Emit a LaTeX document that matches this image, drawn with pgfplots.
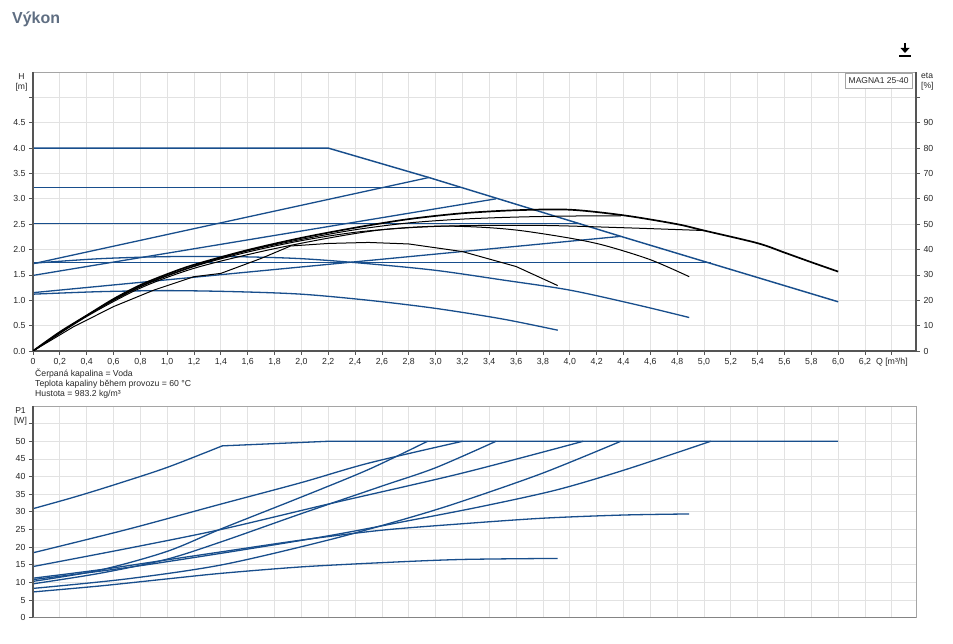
\documentclass[border=0pt]{standalone}
\usepackage{fontspec}
\setmainfont{Liberation Sans}
\usepackage{pgfplots}
\pgfplotsset{compat=1.18}
\definecolor{gblue}{RGB}{24,78,140}
\definecolor{gridgray}{RGB}{226,226,226}
\definecolor{axisdark}{RGB}{85,85,85}
\definecolor{framegray}{RGB}{165,165,165}
\definecolor{titlecol}{RGB}{95,110,130}
\definecolor{txt}{RGB}{40,40,40}
\pgfplotsset{
  base/.style={
    scale only axis, width=883bp, anchor=south west,
    xmin=0, xmax=6.58,
    xtick={0,0.2,0.4,0.6,0.8,1,1.2,1.4,1.6,1.8,2,2.2,2.4,2.6,2.8,3,3.2,3.4,3.6,3.8,4,4.2,4.4,4.6,4.8,5,5.2,5.4,5.6,5.8,6,6.2,6.4},
    grid=major, major grid style={gridgray, line width=0.8bp},
    axis line style={framegray, line width=0.8bp},
    tick align=outside, major tick length=4bp,
    tick style={axisdark, line width=0.8bp},
    tick label style={font=\fontsize{8.8}{10}\selectfont, text=txt},
    clip mode=individual,
  },
  bl/.style={gblue, line width=1.3bp},
  bk/.style={black, line width=1.0bp},
}
\begin{document}
\begin{tikzpicture}
\useasboundingbox (0,0) rectangle (953bp,644bp);
\fill[white] (0,0) rectangle (953bp,644bp);
% title
\node[anchor=base west, inner sep=0pt, font=\fontsize{16}{18}\selectfont\bfseries, text=titlecol] at (12bp,620.7bp) {Výkon};
% download icon
\draw[black, line width=2.2bp] (905bp,601bp) -- (905bp,595bp);
\fill[black] (900.5bp,596bp) -- (909.5bp,596bp) -- (905bp,591bp) -- cycle;
\fill[black] (899bp,587bp) rectangle (911bp,589bp);

% ---------------- top: H ----------------
\begin{axis}[base, at={(33bp,293bp)}, height=279bp,
  ymin=0, ymax=5.5,
  xticklabels={0,{0,2},{0,4},{0,6},{0,8},{1,0},{1,2},{1,4},{1,6},{1,8},{2,0},{2,2},{2,4},{2,6},{2,8},{3,0},{3,2},{3,4},{3,6},{3,8},{4,0},{4,2},{4,4},{4,6},{4,8},{5,0},{5,2},{5,4},{5,6},{5,8},{6,0},{6,2},{Q [m³/h]}},
  ytick={0,0.5,1,1.5,2,2.5,3,3.5,4,4.5,5},
  yticklabels={0.0,0.5,1.0,1.5,2.0,2.5,3.0,3.5,4.0,4.5,{}},
  xtick pos=left, ytick pos=left,
]
% max curve
\addplot[bl, line width=1.45bp] coordinates {(0,4.0) (2.2,4.0) (2.95,3.42) (4.38,2.26) (6.0,0.97)};
% constant pressure
\addplot[bl] coordinates {(0,3.225) (3.2,3.225)};
\addplot[bl] coordinates {(0,2.515) (4.08,2.515)};
\addplot[bl] coordinates {(0,1.74) (5.05,1.74)};
% proportional pressure
\addplot[bl] coordinates {(0,1.72) (2.95,3.42)};
\addplot[bl] coordinates {(0,1.49) (3.45,3.0)};
\addplot[bl] coordinates {(0,1.15) (4.38,2.26)};
% fixed speed curves
\addplot[bl, smooth] coordinates {(0,1.12) (0.5,1.17) (1.0,1.19) (1.5,1.17) (2.0,1.12) (2.5,1.0) (3.0,0.84) (3.5,0.63) (3.91,0.41)};
\addplot[bl, smooth] coordinates {(0,1.73) (0.5,1.82) (1.0,1.86) (1.5,1.86) (2.0,1.82) (2.5,1.72) (3.0,1.59) (3.5,1.40) (4.0,1.20) (4.5,0.91) (4.89,0.66)};
\draw[axisdark, line width=1.3bp] (rel axis cs:0,1) -- (rel axis cs:0,0) -- (rel axis cs:1,0);
\end{axis}

% ---------------- top: eta ----------------
\begin{axis}[base, at={(33bp,293bp)}, height=279bp,
  ymin=0, ymax=110, grid=none,
  axis x line=none, axis y line*=right,
  axis line style={-, axisdark, line width=1.3bp},
  ytick={0,10,20,30,40,50,60,70,80,90,100},
  yticklabels={0,10,20,30,40,50,60,70,80,90,{}},
]
\addplot[bk, line width=1.7bp, smooth] coordinates {(0,0) (0.2,7.5) (0.4,14) (0.6,20.5) (0.8,26) (1.0,30.3) (1.2,34) (1.6,39.8) (2.0,44.6) (2.4,48.6) (2.8,52) (3.2,54.3) (3.6,55.5) (4.0,55.7) (4.4,53.5) (4.8,50) (5.0,47.5) (5.4,42.5) (5.6,38.8) (5.8,35) (6.0,31.3)};
\addplot[bk, smooth] coordinates {(0,0) (0.4,14) (0.8,25.5) (1.2,33.5) (1.6,39.5) (2.0,44) (2.4,47.8) (2.8,50.5) (3.2,52) (3.6,52.8) (4.0,53.2) (4.38,53.3)};
\addplot[bk, smooth] coordinates {(0,0) (0.4,14) (0.8,25.3) (1.2,33.3) (1.6,39) (2.0,43.5) (2.4,46.8) (2.8,48.6) (3.2,49.4) (3.8,49.5) (4.4,48.6) (5.0,47.5)};
\addplot[bk, smooth] coordinates {(0,0) (0.4,13.6) (0.8,24.8) (1.2,32.6) (1.7,39.2) (2.2,44.5) (2.6,47.8) (3.0,49.2) (3.34,48.8) (3.63,47.5) (4.0,44.5) (4.26,41.6) (4.6,36) (4.89,29.3)};
\addplot[bk] coordinates {(0,0) (0.3,9.5) (0.6,17.5) (0.9,24) (1.2,29.3) (1.4,30.6) (1.7,36.5) (1.92,41.4) (2.2,42.4) (2.5,42.8) (2.8,42.2) (3.2,39.2) (3.6,33.3) (3.91,25.8)};
\end{axis}

% labels top
\node[font=\fontsize{8.6}{10}\selectfont, text=txt] at (21.5bp,567.5bp) {H};
\node[font=\fontsize{8.6}{10}\selectfont, text=txt] at (21.5bp,557bp) {[m]};
\node[anchor=west, inner sep=0pt, font=\fontsize{8.6}{10}\selectfont, text=txt] at (921bp,568bp) {eta};
\node[anchor=west, inner sep=0pt, font=\fontsize{8.6}{10}\selectfont, text=txt] at (921bp,557.5bp) {[\%]};
\node[draw=framegray, fill=white, anchor=north east, inner sep=3.3bp, minimum height=15bp, font=\fontsize{8.5}{10}\selectfont, text=txt] at (912bp,570.7bp) {MAGNA1 25-40};

% notes
\node[anchor=west, inner sep=0pt, font=\fontsize{8.7}{10}\selectfont, text=txt] at (35bp,270bp) {Čerpaná kapalina = Voda};
\node[anchor=west, inner sep=0pt, font=\fontsize{8.7}{10}\selectfont, text=txt] at (35bp,259.5bp) {Teplota kapaliny během provozu = 60 °C};
\node[anchor=west, inner sep=0pt, font=\fontsize{8.7}{10}\selectfont, text=txt] at (35bp,249.5bp) {Hustota = 983.2 kg/m³};

% ---------------- bottom: P1 ----------------
\begin{axis}[base, at={(33bp,26.3bp)}, height=211.7bp,
  ymin=0, ymax=60,
  xticklabels={}, xtick style={draw=none},
  ytick={0,5,10,15,20,25,30,35,40,45,50,55},
  yticklabels={0,5,10,15,20,25,30,35,40,45,50,{}},
  ytick pos=left,
]
\addplot[bl, smooth] coordinates {(0,30.9) (0.3,34.1) (0.6,37.6) (1.0,42.6) (1.41,48.7)};
\addplot[bl] coordinates {(1.41,48.7) (2.2,50) (6.0,50)};
\addplot[bl, smooth] coordinates {(0,18.4) (0.7,25) (1.4,32.2) (2.0,38.3) (2.5,43.8) (3.2,50)};
\addplot[bl, smooth] coordinates {(0,14.5) (0.7,19.6) (1.4,25) (2.2,32.2) (3.19,40.9) (4.1,50)};
\addplot[bl, smooth] coordinates {(0,10.3) (0.5,13.5) (1.0,18.8) (1.41,25.3) (2.0,34.2) (2.5,42) (2.94,50)};
\addplot[bl, smooth] coordinates {(0,9.6) (0.5,12.6) (1.0,16.6) (1.41,21.6) (2.0,29.5) (2.6,37.3) (3.0,42.5) (3.45,50)};
\addplot[bl, smooth] coordinates {(0,8.3) (0.7,11) (1.41,15) (2.2,22) (2.8,28.3) (3.19,32.9) (3.8,41) (4.38,50)};
\addplot[bl, smooth] coordinates {(0,10.8) (0.7,14.2) (1.41,18.3) (2.2,23.2) (2.8,27.5) (3.34,31.5) (3.9,36.2) (4.41,41.9) (5.05,50)};
\addplot[bl, smooth] coordinates {(0,11.2) (0.5,13.6) (1.0,16.4) (1.41,18.7) (2.0,22) (2.6,24.8) (3.19,26.6) (3.8,28.2) (4.4,29.1) (4.89,29.4)};
\addplot[bl, smooth] coordinates {(0,7.3) (0.5,9) (1.0,11) (1.41,12.6) (2.0,14.4) (2.6,15.6) (3.19,16.5) (3.91,16.8)};
\draw[axisdark, line width=1.3bp] (rel axis cs:0,1) -- (rel axis cs:0,0);
\draw[framegray!80!black, line width=1bp] (rel axis cs:0,0) -- (rel axis cs:1,0);
\end{axis}
\node[font=\fontsize{8.6}{10}\selectfont, text=txt] at (20.5bp,233.5bp) {P1};
\node[font=\fontsize{8.6}{10}\selectfont, text=txt] at (20.5bp,222.3bp) {[W]};
\end{tikzpicture}
\end{document}
